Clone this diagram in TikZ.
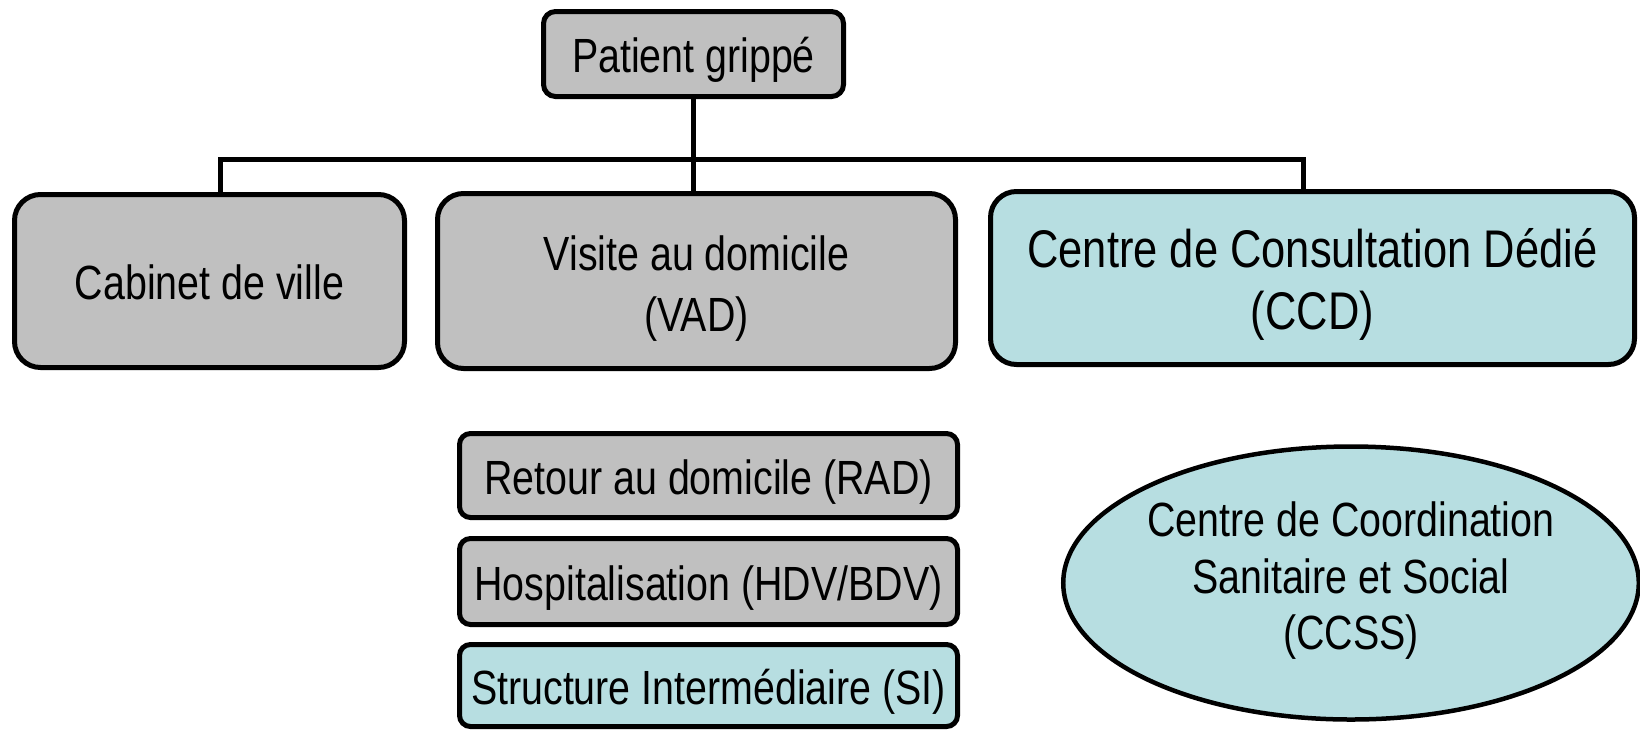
\documentclass[tikz,border=0pt]{standalone}
\usepackage{fontspec}
\setmainfont{Liberation Sans}[FakeStretch=0.82]
\usetikzlibrary{shapes.geometric}
\definecolor{boxgray}{RGB}{192,192,192}
\definecolor{boxcyan}{RGB}{183,222,225}
\tikzset{
  base/.style={draw=black, line width=5pt, align=center, inner sep=0pt, text=black,
    font=\fontsize{48}{61}\selectfont},
  oneline/.style={text height=37.4pt, text depth=0pt},
  graybox/.style={base, fill=boxgray, rectangle},
  cyanbox/.style={base, fill=boxcyan, rectangle},
  conn/.style={draw=black, line width=5pt}
}
\begin{document}
\begin{tikzpicture}[x=1pt,y=-1pt]
\useasboundingbox[fill=white] (0,0) rectangle (1640,729);
\clip (0,0) rectangle (1640,729);
\node[graybox, oneline, rounded corners=12pt, minimum width=300pt, minimum height=85pt] (pat) at (693.5,54) {Patient grippé};
\node[graybox, oneline, rounded corners=26pt, minimum width=390pt, minimum height=173pt] (cab) at (209.5,281) {Cabinet de ville};
\node[graybox, text height=100pt, text depth=0pt, rounded corners=26pt, minimum width=518pt, minimum height=175pt] (vis) at (696.5,281) {Visite au domicile\\(VAD)};
\node[cyanbox, text height=102pt, text depth=0pt, rounded corners=26pt, minimum width=644pt, minimum height=173pt, font=\fontsize{53}{62}\selectfont] (ccd) at (1312.5,278) {Centre de Consultation Dédié\\(CCD)};
\node[graybox, oneline, rounded corners=11pt, minimum width=498pt, minimum height=84pt] (rad) at (708.5,475.5) {Retour au domicile (RAD)};
\node[graybox, oneline, rounded corners=11pt, minimum width=498pt, minimum height=86pt] (hdv) at (708.5,581.5) {Hospitalisation (HDV/BDV)};
\node[cyanbox, oneline, rounded corners=11pt, minimum width=498pt, minimum height=82pt] (si) at (708.5,685.5) {Structure Intermédiaire (SI)};
\node[base, fill=boxcyan, ellipse, minimum width=569pt, minimum height=273pt, line width=4.5pt, text height=133pt, text depth=0pt, font=\fontsize{48}{56.5}\selectfont] (ccss) at (1351,583) {Centre de Coordination\\Sanitaire et Social\\(CCSS)};
\coordinate (busL) at (220,159);
\coordinate (busR) at (1303,159);
\draw[conn] (pat.south) -- (pat.south |- vis.north);
\draw[conn] (cab.north -| busL) -- (busL) -- (busR) -- (ccd.north -| busR);
\end{tikzpicture}
\end{document}
